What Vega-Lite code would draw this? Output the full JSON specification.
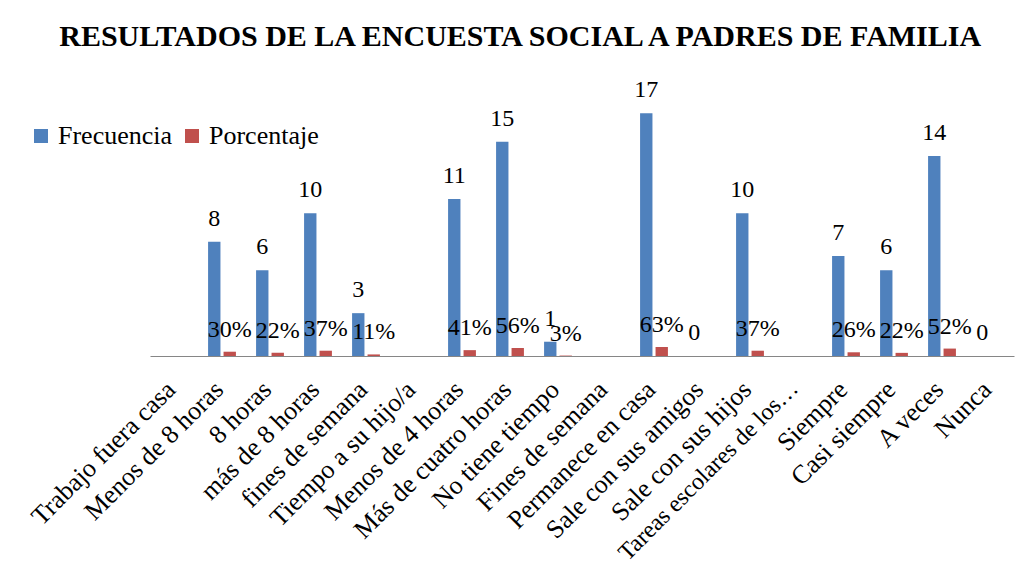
{
  "$schema": "https://vega.github.io/schema/vega-lite/v6.json",
  "width": 864,
  "height": 257,
  "autosize": {"type": "none"},
  "padding": {"left": 150, "top": 99, "right": 15, "bottom": 223},
  "background": "white",
  "config": {"view": {"stroke": null}, "font": "Liberation Serif", "text": {"font": "Liberation Serif"}},
  "title": {
    "text": "RESULTADOS DE LA ENCUESTA SOCIAL A PADRES DE FAMILIA",
    "font": "Liberation Serif",
    "fontSize": 30,
    "fontWeight": "bold",
    "color": "black",
    "anchor": "middle",
    "frame": "bounds",
    "offset": 26
  },
  "data": {
    "values": [
      {"categoria": "Menos de 8 horas", "serie": "Frecuencia", "valor": 8},
      {"categoria": "Menos de 8 horas", "serie": "Porcentaje", "valor": 0.30},
      {"categoria": "8 horas", "serie": "Frecuencia", "valor": 6},
      {"categoria": "8 horas", "serie": "Porcentaje", "valor": 0.22},
      {"categoria": "más de 8 horas", "serie": "Frecuencia", "valor": 10},
      {"categoria": "más de 8 horas", "serie": "Porcentaje", "valor": 0.37},
      {"categoria": "fines de semana", "serie": "Frecuencia", "valor": 3},
      {"categoria": "fines de semana", "serie": "Porcentaje", "valor": 0.11},
      {"categoria": "Menos de 4 horas", "serie": "Frecuencia", "valor": 11},
      {"categoria": "Menos de 4 horas", "serie": "Porcentaje", "valor": 0.41},
      {"categoria": "Más de cuatro horas", "serie": "Frecuencia", "valor": 15},
      {"categoria": "Más de cuatro horas", "serie": "Porcentaje", "valor": 0.56},
      {"categoria": "No tiene tiempo", "serie": "Frecuencia", "valor": 1},
      {"categoria": "No tiene tiempo", "serie": "Porcentaje", "valor": 0.03},
      {"categoria": "Permanece en casa", "serie": "Frecuencia", "valor": 17},
      {"categoria": "Permanece en casa", "serie": "Porcentaje", "valor": 0.63},
      {"categoria": "Sale con sus amigos", "serie": "Frecuencia", "valor": 0},
      {"categoria": "Sale con sus hijos", "serie": "Frecuencia", "valor": 10},
      {"categoria": "Sale con sus hijos", "serie": "Porcentaje", "valor": 0.37},
      {"categoria": "Siempre", "serie": "Frecuencia", "valor": 7},
      {"categoria": "Siempre", "serie": "Porcentaje", "valor": 0.26},
      {"categoria": "Casi siempre", "serie": "Frecuencia", "valor": 6},
      {"categoria": "Casi siempre", "serie": "Porcentaje", "valor": 0.22},
      {"categoria": "A veces", "serie": "Frecuencia", "valor": 14},
      {"categoria": "A veces", "serie": "Porcentaje", "valor": 0.52},
      {"categoria": "Nunca", "serie": "Frecuencia", "valor": 0}
    ]
  },
  "encoding": {
    "x": {
      "field": "categoria",
      "type": "nominal",
      "sort": null,
      "scale": {
        "domain": ["Trabajo fuera casa", "Menos de 8 horas", "8 horas", "más de 8 horas", "fines de semana", "Tiempo a su hijo/a", "Menos de 4 horas", "Más de cuatro horas", "No tiene tiempo", "Fines de semana", "Permanece en casa", "Sale con sus amigos", "Sale con sus hijos", "Tareas escolares de los…", "Siempre", "Casi siempre", "A veces", "Nunca"],
        "paddingInner": 0.42,
        "paddingOuter": 0.21
      },
      "axis": {
        "title": null,
        "labelAngle": -45,
        "labelFont": "Liberation Serif",
        "labelFontSize": {"condition": {"test": "datum.value === 'Tareas escolares de los…'", "value": 24}, "value": 26},
        "labelColor": "black",
        "labelLimit": 0,
        "labelPadding": 20,
        "labelOffset": -12,
        "ticks": false,
        "domainColor": "#868686",
        "domainWidth": 1,
        "grid": false
      }
    },
    "xOffset": {
      "field": "serie",
      "type": "nominal",
      "scale": {"domain": ["Frecuencia", "Porcentaje"], "paddingInner": 0.2}
    },
    "y": {
      "field": "valor",
      "type": "quantitative",
      "scale": {"domain": [0, 18]},
      "axis": null
    }
  },
  "layer": [
    {
      "mark": {"type": "bar"},
      "encoding": {
        "color": {
          "field": "serie",
          "type": "nominal",
          "scale": {"domain": ["Frecuencia", "Porcentaje"], "range": ["#4F81BD", "#C0504D"]},
          "legend": {
            "title": null,
            "orient": "none",
            "legendX": -122,
            "legendY": 24,
            "padding": 0,
            "direction": "horizontal",
            "symbolType": "square",
            "symbolSize": 196,
            "symbolStrokeWidth": 0,
            "labelFont": "Liberation Serif",
            "labelFontSize": 26,
            "labelColor": "black",
            "labelOffset": 4,
            "columnPadding": 6,
            "labelLimit": 0
          }
        }
      }
    },
    {
      "transform": [{"filter": "datum.serie === 'Frecuencia'"}],
      "mark": {"type": "text", "font": "Liberation Serif", "fontSize": 24, "color": "black", "baseline": "alphabetic", "dy": -16},
      "encoding": {"text": {"field": "valor", "type": "quantitative", "format": "d"}}
    },
    {
      "transform": [{"filter": "datum.serie === 'Porcentaje'"}],
      "mark": {"type": "text", "font": "Liberation Serif", "fontSize": 24, "color": "black", "baseline": "alphabetic", "dy": -15},
      "encoding": {"text": {"field": "valor", "type": "quantitative", "format": ".0%"}}
    }
  ]
}
